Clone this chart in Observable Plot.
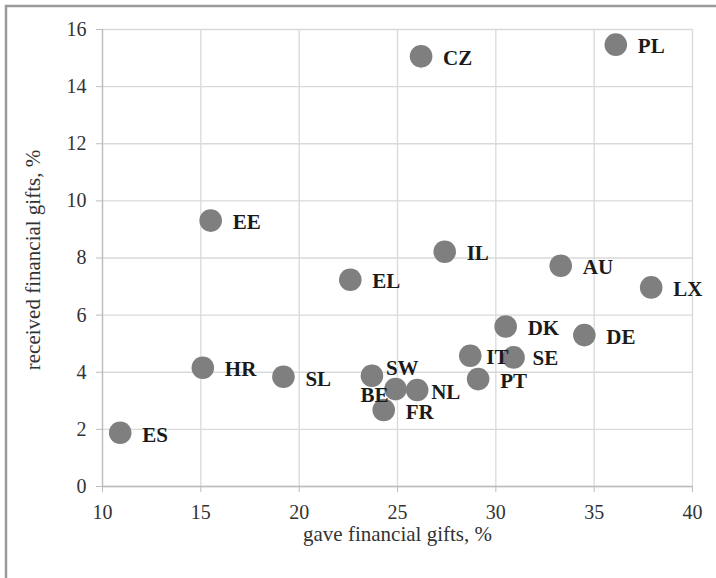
<!DOCTYPE html>
<html>
<head>
<meta charset="utf-8">
<script src="https://cdn.jsdelivr.net/npm/d3@7"></script>
<script src="https://cdn.jsdelivr.net/npm/@observablehq/plot@0.6"></script>
<style>
  html, body { margin: 0; padding: 0; background: #fff; }
  svg { display: block; }
</style>
</head>
<body>
<div id="wrap"></div>
<script>
const codes    = ["PL","CZ","EE","IL","AU","EL","LX","DK","DE","HR","IT","SE","SW","SL","PT","BE","NL","FR","ES"];
const gave     = [36.1, 26.2, 15.5, 27.4, 33.3, 22.6, 37.9, 30.5, 34.5, 15.1, 28.7, 30.9, 23.7, 19.2, 29.1, 24.9, 26.0, 24.3, 10.9];
const received = [15.47,15.06, 9.31, 8.22, 7.73, 7.24, 6.97, 5.6, 5.3, 4.16, 4.58, 4.52, 3.88, 3.84, 3.76, 3.41, 3.38, 2.68, 1.88];
const xTicks = [10, 15, 20, 25, 30, 35, 40];
const yTicks = [0, 2, 4, 6, 8, 10, 12, 14, 16];
const xTitle = "gave financial gifts, %";
const yTitle = "received financial gifts, %";

const data = codes.map((c, i) => ({code: c, x: gave[i], y: received[i]}));

const serif = "Liberation Serif";
const special = ["SW", "BE", "NL", "IT", "SE"];
const lbl = {x: "x", y: "y", text: "code", fontFamily: serif, fontWeight: "bold", fontSize: 21, fill: "#1a1a1a", textAnchor: "start"};

const chart = Plot.plot({
  width: 716,
  height: 578,
  marginLeft: 102,
  marginRight: 24,
  marginTop: 29,
  marginBottom: 92,
  style: {background: "#fff"},
  x: {domain: [10, 40], ticks: xTicks},
  y: {domain: [0, 16], ticks: yTicks},
  marks: [
    Plot.gridX(xTicks, {stroke: "#d9d9d9", strokeOpacity: 1, strokeWidth: 1.3}),
    Plot.gridY(yTicks, {stroke: "#d9d9d9", strokeOpacity: 1, strokeWidth: 1.3}),
    Plot.ruleX([10], {stroke: "#bdbdbd", strokeWidth: 1.3}),
    Plot.ruleY([0], {stroke: "#bdbdbd", strokeWidth: 1.3}),
    Plot.axisX(xTicks, {label: null, tickSize: 6, tickPadding: 12, fontSize: 20, fontFamily: serif, stroke: "#bdbdbd", fill: "#333"}),
    Plot.axisY(yTicks, {label: null, tickSize: 6, tickPadding: 10, fontSize: 20, fontFamily: serif, stroke: "#bdbdbd", fill: "#333"}),
    Plot.text([xTitle], {frameAnchor: "bottom", lineAnchor: "middle", textAnchor: "middle", dy: 48, fontSize: 21, fontFamily: serif, fill: "#333"}),
    Plot.text([yTitle], {frameAnchor: "left", lineAnchor: "middle", textAnchor: "middle", rotate: -90, dx: -69, dy: 2, fontSize: 21, fontFamily: serif, fill: "#333"}),
    Plot.dot(data, {x: "x", y: "y", r: 11.3, fill: "#7f7f7f", stroke: "none"}),
    Plot.text(data, {...lbl, filter: d => !special.includes(d.code), dx: 22, dy: 2}),
    Plot.text(data, {...lbl, filter: d => d.code === "SW", dx: 14, dy: -7}),
    Plot.text(data, {...lbl, filter: d => d.code === "BE", dx: -7, dy: 6, textAnchor: "end"}),
    Plot.text(data, {...lbl, filter: d => d.code === "NL", dx: 14, dy: 2}),
    Plot.text(data, {...lbl, filter: d => d.code === "IT", dx: 16, dy: 2}),
    Plot.text(data, {...lbl, filter: d => d.code === "SE", dx: 19, dy: 1})
  ]
});
// outer frame of the original figure (left and top edges)
d3.select(chart).append("path")
  .attr("d", "M6,578V6H716")
  .attr("fill", "none")
  .attr("stroke", "#9a9a9a")
  .attr("stroke-width", 2.5);
document.getElementById("wrap").append(chart);
</script>
</body>
</html>
